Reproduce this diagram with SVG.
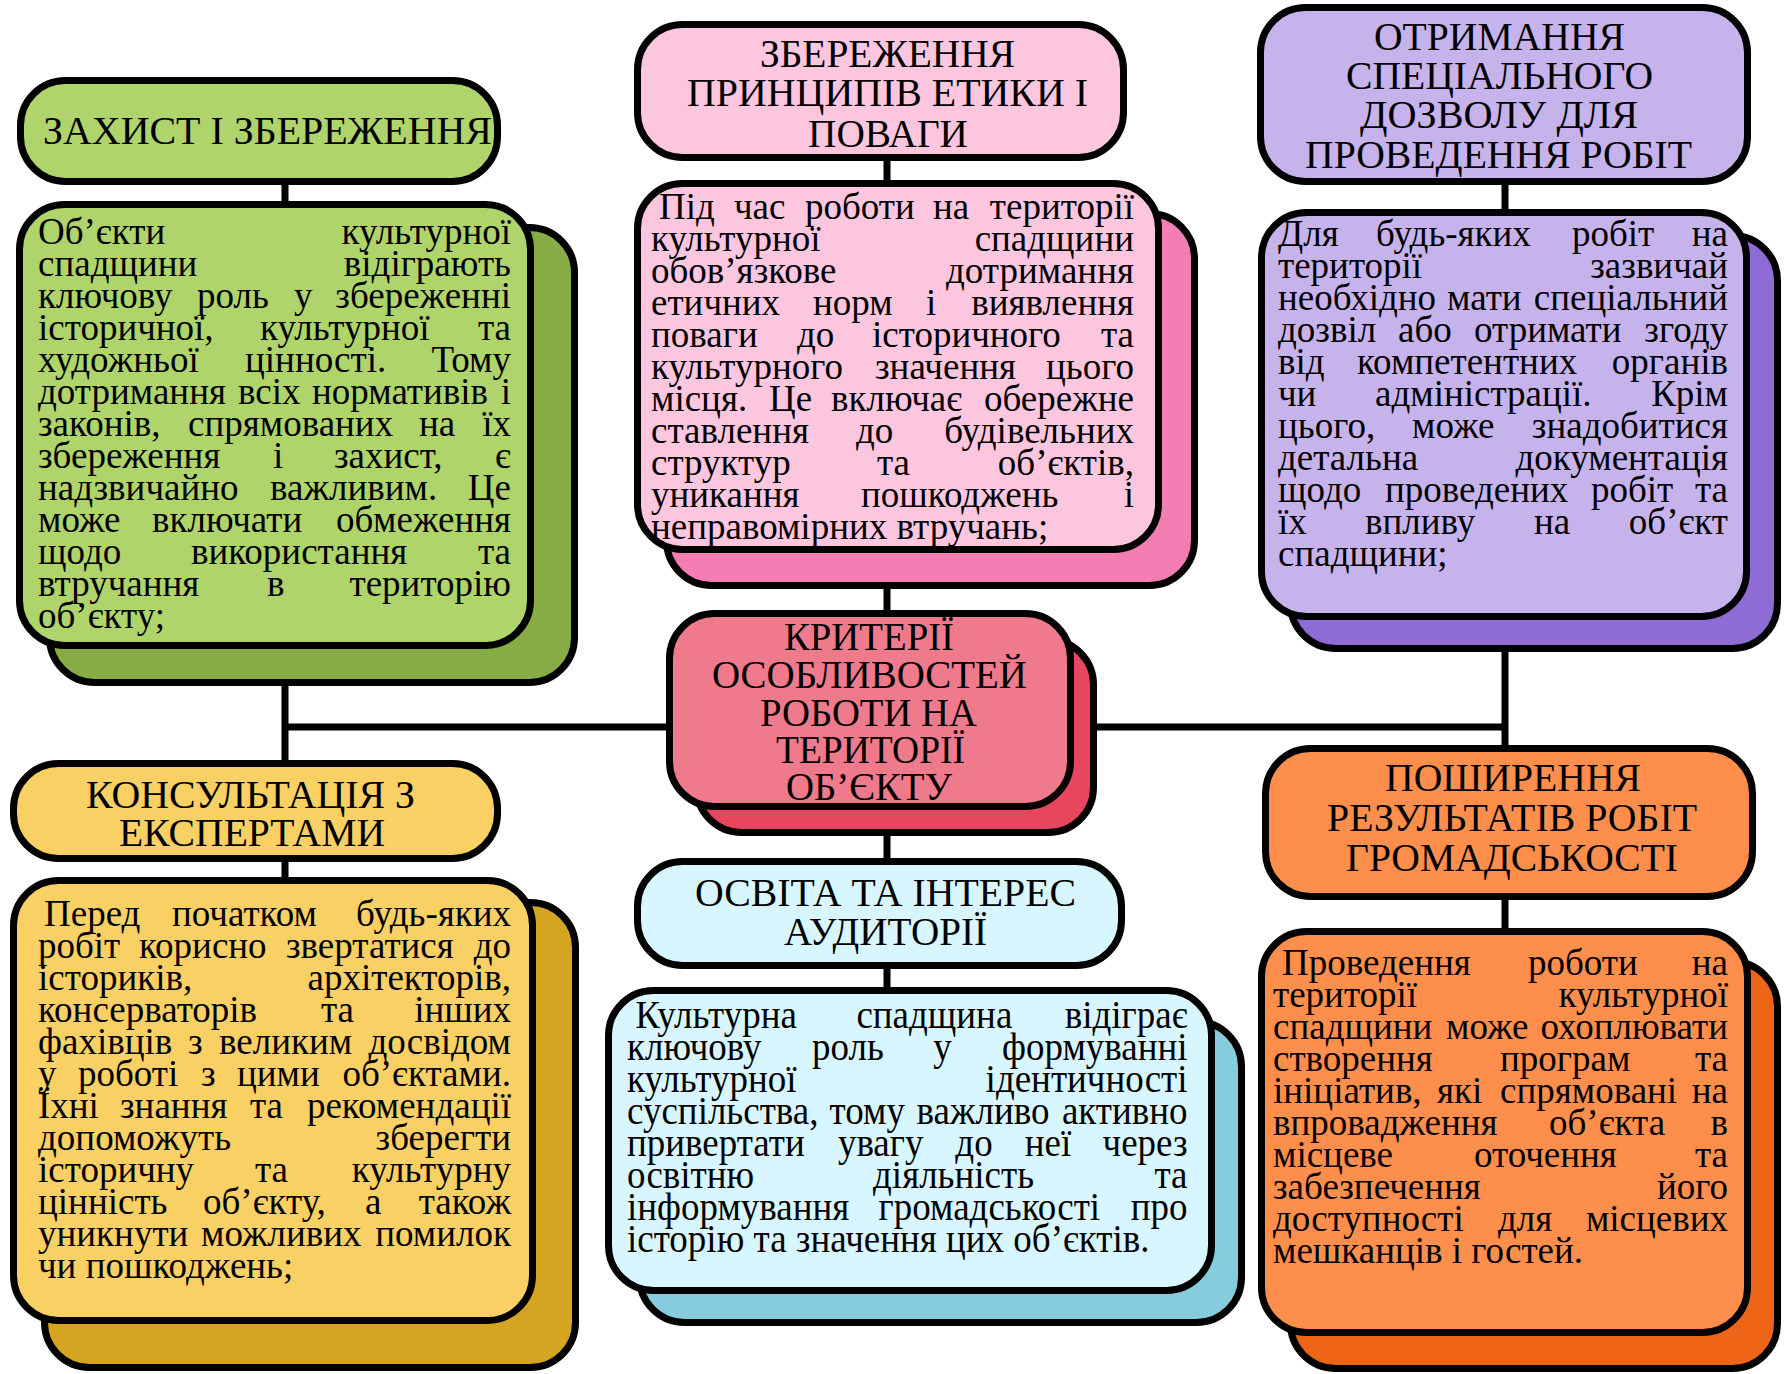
<svg xmlns="http://www.w3.org/2000/svg" width="1787" height="1374" viewBox="0 0 1787 1374">
<style>
.b{stroke:#000;stroke-width:7}
.c{stroke:#000;stroke-width:7;fill:none}
text{font-family:"Liberation Serif","Times New Roman",serif;fill:#000}
.t{font-size:40px}
.p{font-size:37px}
.q{font-size:40px}
.e{text-anchor:end}
</style>
<rect width="1787" height="1374" fill="#fff"/>
<g id="connectors">
<path class="c" d="M285 185V202M285 686V761M285 862V878M285 727H667M887 161V181M887 589V611M887 836V859M887 969V988M1097 727H1505M1505 185V210M1505 652V746M1505 900V929"/>
</g>

<g id="node-protection-title">
<rect class="b" x="20.5" y="80.5" width="477" height="101" rx="45" fill="#AFD46C"/>
<text class="t" x="43" y="144" textLength="449" lengthAdjust="spacingAndGlyphs">ЗАХИСТ І ЗБЕРЕЖЕННЯ</text>
</g>
<g id="node-protection-body">
<rect class="b" x="49.5" y="227.5" width="525" height="455" rx="45" fill="#87AC45"/>
<rect class="b" x="19.5" y="204.5" width="511" height="441" rx="45" fill="#AFD46C"/>
<text class="p" y="244"><tspan x="38">Об’єкти</tspan></text><text class="p e" x="511" y="244">культурної</text>
<text class="p" y="276"><tspan x="38">спадщини</tspan></text><text class="p e" x="511" y="276">відіграють</text>
<text class="p" y="308"><tspan x="38">ключову</tspan><tspan x="197">роль</tspan><tspan x="294">у</tspan></text><text class="p e" x="511" y="308">збереженні</text>
<text class="p" y="340"><tspan x="38">історичної,</tspan><tspan x="260">культурної</tspan></text><text class="p e" x="511" y="340">та</text>
<text class="p" y="372"><tspan x="38">художньої</tspan><tspan x="245">цінності.</tspan></text><text class="p e" x="511" y="372">Тому</text>
<text class="p" y="404"><tspan x="38">дотримання</tspan><tspan x="238">всіх</tspan><tspan x="312">нормативів</tspan></text><text class="p e" x="511" y="404">і</text>
<text class="p" y="436"><tspan x="38">законів,</tspan><tspan x="188">спрямованих</tspan><tspan x="419">на</tspan></text><text class="p e" x="511" y="436">їх</text>
<text class="p" y="468"><tspan x="38">збереження</tspan><tspan x="273">і</tspan><tspan x="334">захист,</tspan></text><text class="p e" x="511" y="468">є</text>
<text class="p" y="500"><tspan x="38">надзвичайно</tspan><tspan x="270">важливим.</tspan></text><text class="p e" x="511" y="500">Це</text>
<text class="p" y="532"><tspan x="38">може</tspan><tspan x="152">включати</tspan></text><text class="p e" x="511" y="532">обмеження</text>
<text class="p" y="564"><tspan x="38">щодо</tspan><tspan x="191">використання</tspan></text><text class="p e" x="511" y="564">та</text>
<text class="p" y="596"><tspan x="38">втручання</tspan><tspan x="267">в</tspan></text><text class="p e" x="511" y="596">територію</text>
<text class="p" x="38" y="628">об’єкту;</text>
</g>

<g id="node-ethics-title">
<rect class="b" x="637.5" y="24.5" width="486" height="133" rx="45" fill="#FCC6DF"/>
<text class="t" x="760" y="67" textLength="255" lengthAdjust="spacingAndGlyphs">ЗБЕРЕЖЕННЯ</text>
<text class="t" x="687" y="106" textLength="401" lengthAdjust="spacingAndGlyphs">ПРИНЦИПІВ ЕТИКИ І</text>
<text class="t" x="808" y="147" textLength="160" lengthAdjust="spacingAndGlyphs">ПОВАГИ</text>
</g>
<g id="node-ethics-body">
<rect class="b" x="666.5" y="213.5" width="528" height="372" rx="45" fill="#F47EB3"/>
<rect class="b" x="637.5" y="183.5" width="521" height="366" rx="45" fill="#FCC6DF"/>
<text class="p" y="219"><tspan x="659">Під</tspan><tspan x="734">час</tspan><tspan x="805">роботи</tspan><tspan x="933">на</tspan></text><text class="p e" x="1134" y="219">території</text>
<text class="p" y="251"><tspan x="651">культурної</tspan></text><text class="p e" x="1134" y="251">спадщини</text>
<text class="p" y="283"><tspan x="651">обов’язкове</tspan></text><text class="p e" x="1134" y="283">дотримання</text>
<text class="p" y="315"><tspan x="651">етичних</tspan><tspan x="813">норм</tspan><tspan x="926">і</tspan></text><text class="p e" x="1134" y="315">виявлення</text>
<text class="p" y="347"><tspan x="651">поваги</tspan><tspan x="797">до</tspan><tspan x="872">історичного</tspan></text><text class="p e" x="1134" y="347">та</text>
<text class="p" y="379"><tspan x="651">культурного</tspan><tspan x="875">значення</tspan></text><text class="p e" x="1134" y="379">цього</text>
<text class="p" y="411"><tspan x="651">місця.</tspan><tspan x="769">Це</tspan><tspan x="831">включає</tspan></text><text class="p e" x="1134" y="411">обережне</text>
<text class="p" y="443"><tspan x="651">ставлення</tspan><tspan x="856">до</tspan></text><text class="p e" x="1134" y="443">будівельних</text>
<text class="p" y="475"><tspan x="651">структур</tspan><tspan x="877">та</tspan></text><text class="p e" x="1134" y="475">об’єктів,</text>
<text class="p" y="507"><tspan x="651">уникання</tspan><tspan x="861">пошкоджень</tspan></text><text class="p e" x="1134" y="507">і</text>
<text class="p" x="651" y="539">неправомірних втручань;</text>
</g>

<g id="node-permit-title">
<rect class="b" x="1260.5" y="7.5" width="487" height="174" rx="45" fill="#C6B3EB"/>
<text class="t" x="1374" y="50" textLength="251" lengthAdjust="spacingAndGlyphs">ОТРИМАННЯ</text>
<text class="t" x="1346" y="89" textLength="307" lengthAdjust="spacingAndGlyphs">СПЕЦІАЛЬНОГО</text>
<text class="t" x="1360" y="128" textLength="278" lengthAdjust="spacingAndGlyphs">ДОЗВОЛУ ДЛЯ</text>
<text class="t" x="1305" y="168" textLength="387" lengthAdjust="spacingAndGlyphs">ПРОВЕДЕННЯ РОБІТ</text>
</g>
<g id="node-permit-body">
<rect class="b" x="1290.5" y="235.5" width="487" height="413" rx="45" fill="#8F6BD5"/>
<rect class="b" x="1261.5" y="212.5" width="485" height="404" rx="45" fill="#C6B3EB"/>
<text class="p" y="246"><tspan x="1278">Для</tspan><tspan x="1376">будь-яких</tspan><tspan x="1572">робіт</tspan></text><text class="p e" x="1728" y="246">на</text>
<text class="p" y="278"><tspan x="1278">території</tspan></text><text class="p e" x="1728" y="278">зазвичай</text>
<text class="p" y="310"><tspan x="1278">необхідно</tspan><tspan x="1447">мати</tspan></text><text class="p e" x="1728" y="310">спеціальний</text>
<text class="p" y="342"><tspan x="1278">дозвіл</tspan><tspan x="1398">або</tspan><tspan x="1474">отримати</tspan></text><text class="p e" x="1728" y="342">згоду</text>
<text class="p" y="374"><tspan x="1278">від</tspan><tspan x="1357">компетентних</tspan></text><text class="p e" x="1728" y="374">органів</text>
<text class="p" y="406"><tspan x="1278">чи</tspan><tspan x="1375">адміністрації.</tspan></text><text class="p e" x="1728" y="406">Крім</text>
<text class="p" y="438"><tspan x="1278">цього,</tspan><tspan x="1412">може</tspan></text><text class="p e" x="1728" y="438">знадобитися</text>
<text class="p" y="470"><tspan x="1278">детальна</tspan></text><text class="p e" x="1728" y="470">документація</text>
<text class="p" y="502"><tspan x="1278">щодо</tspan><tspan x="1385">проведених</tspan><tspan x="1591">робіт</tspan></text><text class="p e" x="1728" y="502">та</text>
<text class="p" y="534"><tspan x="1278">їх</tspan><tspan x="1365">впливу</tspan><tspan x="1534">на</tspan></text><text class="p e" x="1728" y="534">об’єкт</text>
<text class="p" x="1278" y="566">спадщини;</text>
</g>

<g id="node-center">
<rect class="b" x="696.5" y="639.5" width="397" height="193" rx="45" fill="#E8455E"/>
<rect class="b" x="669.5" y="613.5" width="401" height="193" rx="45" fill="#EE7A8C"/>
<text class="t" x="784" y="650" textLength="170" lengthAdjust="spacingAndGlyphs">КРИТЕРІЇ</text>
<text class="t" x="712" y="688" textLength="315" lengthAdjust="spacingAndGlyphs">ОСОБЛИВОСТЕЙ</text>
<text class="t" x="760" y="726" textLength="217" lengthAdjust="spacingAndGlyphs">РОБОТИ НА</text>
<text class="t" x="776" y="763" textLength="189" lengthAdjust="spacingAndGlyphs">ТЕРИТОРІЇ</text>
<text class="t" x="786" y="800" textLength="166" lengthAdjust="spacingAndGlyphs">ОБ’ЄКТУ</text>
</g>

<g id="node-education-title">
<rect class="b" x="637.5" y="861.5" width="484" height="104" rx="45" fill="#D8F6FF"/>
<text class="t" x="695" y="906" textLength="381" lengthAdjust="spacingAndGlyphs">ОСВІТА ТА ІНТЕРЕС</text>
<text class="t" x="784" y="945" textLength="203" lengthAdjust="spacingAndGlyphs">АУДИТОРІЇ</text>
</g>
<g id="node-education-body">
<rect class="b" x="639.5" y="1021.5" width="602" height="301" rx="45" fill="#86CCDC"/>
<rect class="b" x="608.5" y="990.5" width="603" height="300" rx="45" fill="#D8F6FF"/>
<g transform="translate(627 0) scale(0.925 1)">
<text class="q" y="1028"><tspan x="9">Культурна</tspan><tspan x="248">спадщина</tspan></text><text class="q e" x="606" y="1028">відіграє</text>
<text class="q" y="1060"><tspan x="0">ключову</tspan><tspan x="200">роль</tspan><tspan x="331">у</tspan></text><text class="q e" x="606" y="1060">формуванні</text>
<text class="q" y="1092"><tspan x="0">культурної</tspan></text><text class="q e" x="606" y="1092">ідентичності</text>
<text class="q" y="1124"><tspan x="0">суспільства,</tspan><tspan x="219">тому</tspan><tspan x="313">важливо</tspan></text><text class="q e" x="606" y="1124">активно</text>
<text class="q" y="1156"><tspan x="0">привертати</tspan><tspan x="228">увагу</tspan><tspan x="355">до</tspan><tspan x="430">неї</tspan></text><text class="q e" x="606" y="1156">через</text>
<text class="q" y="1188"><tspan x="0">освітню</tspan><tspan x="266">діяльність</tspan></text><text class="q e" x="606" y="1188">та</text>
<text class="q" y="1220"><tspan x="0">інформування</tspan><tspan x="272">громадськості</tspan></text><text class="q e" x="606" y="1220">про</text>
<text class="q" x="0" y="1252">історію та значення цих об’єктів.</text>
</g>
</g>

<g id="node-experts-title">
<rect class="b" x="13.5" y="763.5" width="484" height="95" rx="45" fill="#F8D064"/>
<text class="t" x="86" y="808" textLength="329" lengthAdjust="spacingAndGlyphs">КОНСУЛЬТАЦІЯ З</text>
<text class="t" x="119" y="846" textLength="266" lengthAdjust="spacingAndGlyphs">ЕКСПЕРТАМИ</text>
</g>
<g id="node-experts-body">
<rect class="b" x="44.5" y="902.5" width="531" height="465" rx="45" fill="#D5A421"/>
<rect class="b" x="13.5" y="880.5" width="519" height="440" rx="45" fill="#F8D064"/>
<text class="p" y="926"><tspan x="44">Перед</tspan><tspan x="172">початком</tspan></text><text class="p e" x="511" y="926">будь-яких</text>
<text class="p" y="958"><tspan x="38">робіт</tspan><tspan x="139">корисно</tspan><tspan x="286">звертатися</tspan></text><text class="p e" x="511" y="958">до</text>
<text class="p" y="990"><tspan x="38">істориків,</tspan></text><text class="p e" x="511" y="990">архітекторів,</text>
<text class="p" y="1022"><tspan x="38">консерваторів</tspan><tspan x="321">та</tspan></text><text class="p e" x="511" y="1022">інших</text>
<text class="p" y="1054"><tspan x="38">фахівців</tspan><tspan x="188">з</tspan><tspan x="219">великим</tspan></text><text class="p e" x="511" y="1054">досвідом</text>
<text class="p" y="1086"><tspan x="38">у</tspan><tspan x="78">роботі</tspan><tspan x="201">з</tspan><tspan x="237">цими</tspan></text><text class="p e" x="511" y="1086">об’єктами.</text>
<text class="p" y="1118"><tspan x="38">Їхні</tspan><tspan x="120">знання</tspan><tspan x="250">та</tspan></text><text class="p e" x="511" y="1118">рекомендації</text>
<text class="p" y="1150"><tspan x="38">допоможуть</tspan></text><text class="p e" x="511" y="1150">зберегти</text>
<text class="p" y="1182"><tspan x="38">історичну</tspan><tspan x="255">та</tspan></text><text class="p e" x="511" y="1182">культурну</text>
<text class="p" y="1214"><tspan x="38">цінність</tspan><tspan x="203">об’єкту,</tspan><tspan x="365">а</tspan></text><text class="p e" x="511" y="1214">також</text>
<text class="p" y="1246"><tspan x="38">уникнути</tspan><tspan x="201">можливих</tspan></text><text class="p e" x="511" y="1246">помилок</text>
<text class="p" x="38" y="1278">чи пошкоджень;</text>
</g>

<g id="node-outreach-title">
<rect class="b" x="1265.5" y="748.5" width="487" height="148" rx="45" fill="#FD8E4B"/>
<text class="t" x="1385" y="791" textLength="256" lengthAdjust="spacingAndGlyphs">ПОШИРЕННЯ</text>
<text class="t" x="1327" y="831" textLength="370" lengthAdjust="spacingAndGlyphs">РЕЗУЛЬТАТІВ РОБІТ</text>
<text class="t" x="1346" y="871" textLength="332" lengthAdjust="spacingAndGlyphs">ГРОМАДСЬКОСТІ</text>
</g>
<g id="node-outreach-body">
<rect class="b" x="1290.5" y="961.5" width="487" height="407" rx="45" fill="#EE6517"/>
<rect class="b" x="1261.5" y="931.5" width="486" height="401" rx="45" fill="#FD8E4B"/>
<text class="p" y="975"><tspan x="1282">Проведення</tspan><tspan x="1528">роботи</tspan></text><text class="p e" x="1728" y="975">на</text>
<text class="p" y="1007"><tspan x="1273">території</tspan></text><text class="p e" x="1728" y="1007">культурної</text>
<text class="p" y="1039"><tspan x="1273">спадщини</tspan><tspan x="1446">може</tspan></text><text class="p e" x="1728" y="1039">охоплювати</text>
<text class="p" y="1071"><tspan x="1273">створення</tspan><tspan x="1500">програм</tspan></text><text class="p e" x="1728" y="1071">та</text>
<text class="p" y="1103"><tspan x="1273">ініціатив,</tspan><tspan x="1437">які</tspan><tspan x="1500">спрямовані</tspan></text><text class="p e" x="1728" y="1103">на</text>
<text class="p" y="1135"><tspan x="1273">впровадження</tspan><tspan x="1549">об’єкта</tspan></text><text class="p e" x="1728" y="1135">в</text>
<text class="p" y="1167"><tspan x="1273">місцеве</tspan><tspan x="1474">оточення</tspan></text><text class="p e" x="1728" y="1167">та</text>
<text class="p" y="1199"><tspan x="1273">забезпечення</tspan></text><text class="p e" x="1728" y="1199">його</text>
<text class="p" y="1231"><tspan x="1273">доступності</tspan><tspan x="1498">для</tspan></text><text class="p e" x="1728" y="1231">місцевих</text>
<text class="p" x="1273" y="1263">мешканців і гостей.</text>
</g>
</svg>
